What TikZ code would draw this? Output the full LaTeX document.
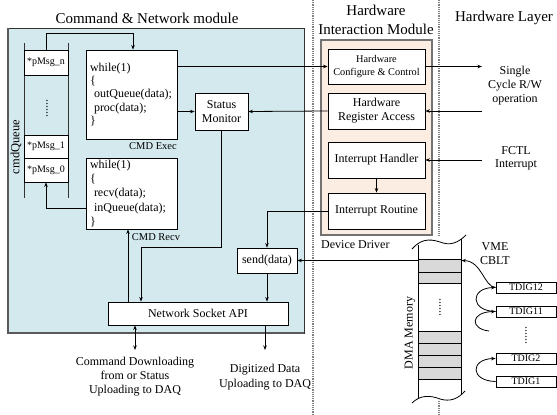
\documentclass[tikz,border=0pt]{standalone}
\usepackage{fontspec}
\setmainfont{Liberation Serif}
\usetikzlibrary{arrows.meta}
\definecolor{cnblue}{HTML}{D3E9EE}
\definecolor{hwpeach}{HTML}{FCEDE3}
\definecolor{memgray}{HTML}{D9D9D9}
\tikzset{
 box/.style={draw, fill=white, line width=0.8pt, inner sep=0pt, align=center, font=\fontsize{12}{14}\selectfont},
 cell/.style={draw, fill=white, line width=0.8pt, minimum width=44pt, inner sep=0pt, font=\fontsize{10}{12}\selectfont},
 conn/.style={line width=0.8pt},
 arr/.style={conn, -{Stealth[length=4.5pt,width=3.5pt]}},
 darr/.style={conn, {Stealth[length=4.5pt,width=3.5pt]}-{Stealth[length=4.5pt,width=3.5pt]}},
 lbl/.style={inner sep=0pt, align=center, font=\fontsize{12}{14}\selectfont},
 smalllbl/.style={inner sep=0pt, align=center, font=\fontsize{10.5}{12}\selectfont},
 ttl/.style={inner sep=0pt, align=center, font=\fontsize{15}{19}\selectfont},
 sepline/.style={gray, densely dotted, line width=1.2pt},
 memrow/.style={draw, fill=memgray, line width=0.8pt, minimum width=43pt, inner sep=0pt},
 tdig/.style={draw, fill=white, line width=0.8pt, minimum width=60pt, minimum height=11pt, inner sep=0pt, font=\fontsize{10}{11}\selectfont},
 vdots/.style={inner sep=0pt, rotate=90, font=\fontsize{12}{14}\selectfont},
}
\begin{document}
\begin{tikzpicture}[x=1pt,y=-1pt]
\useasboundingbox (0,0) rectangle (557,415);
% background regions
\fill[cnblue] (8,28) rectangle (304,333);
\draw[line width=0.6pt, black!80] (8,28) rectangle (304,333);
\draw[line width=1.6pt, black!65] (8,28) -- (8,333) -- (304,333);
\fill[hwpeach] (321,40) rectangle (432,235);
\draw[line width=1.2pt, black!55] (321,40) rectangle (432,235);
% separators
\draw[sepline] (313,0) -- (313,415);
\draw[sepline] (439,0) -- (439,236);
\draw[sepline] (439,401) -- (439,415);
% titles
\node[ttl] (t1) at (147,18) {Command \& Network module};
\node[ttl] (t2) at (376,20) {Hardware\\Interaction Module};
\node[ttl] (t3) at (504,18) {Hardware Layer};
% cmdQueue
\draw[line width=1pt, black!80] (24,43) -- (24,198);
\draw[line width=1pt, black!80] (68,43) -- (68,198);
\node[cell, minimum height=25pt] (pn) at (46,62.5) {*pMsg\_n};
\node[vdots] (qd) at (47,108) {......};
\node[cell, minimum height=23pt] (p1) at (46,146.5) {*pMsg\_1};
\node[cell, minimum height=24pt] (p0) at (46,170) {*pMsg\_0};
\node[lbl, rotate=90, font=\fontsize{12.5}{14}\selectfont] (cq) at (16,147) {cmdQueue};
% code boxes
\node[box, align=left, text width=83pt, minimum height=89pt, inner xsep=4pt, font=\fontsize{12}{13.3}\selectfont] (exec) at (131.5,94.5) {while(1)\\\{\\\hspace*{4pt}outQueue(data);\\\hspace*{4pt}proc(data);\\\}};
\node[smalllbl] (execl) at (153,146) {CMD Exec};
\node[box, align=left, text width=83pt, minimum height=71pt, inner xsep=4pt, font=\fontsize{12}{14.3}\selectfont] (recv) at (131.5,193.5) {while(1)\\\{\\\hspace*{4pt}recv(data);\\\hspace*{4pt}inQueue(data);\\\}};
\node[smalllbl] (recvl) at (156,237) {CMD Recv};
\node[box, minimum width=53pt, minimum height=37pt] (sm) at (221.5,111.5) {Status\\Monitor};
\node[box, minimum width=180pt, minimum height=23pt] (nsa) at (198,313.5) {Network Socket API};
\node[box, minimum width=60pt, minimum height=25pt] (send) at (267,260.5) {send(data)};
% hardware interaction module
\node[box, minimum width=97pt, minimum height=35pt, font=\fontsize{10.3}{13}\selectfont] (cfg) at (376.5,66.5) {Hardware\\Configure \& Control};
\node[box, minimum width=97pt, minimum height=36pt] (reg) at (376.5,111) {Hardware\\Register Access};
\node[box, minimum width=97pt, minimum height=36pt] (ih) at (376.5,160) {Interrupt Handler};
\node[box, minimum width=97pt, minimum height=36pt] (ir) at (376.5,211) {Interrupt Routine};
\node[lbl, anchor=west] (dd) at (321,245) {Device Driver};
% hardware layer labels
\node[lbl] (scl) at (515,86) {Single\\Cycle R/W\\operation};
\node[lbl, font=\fontsize{12}{13}\selectfont] (fctl) at (516,158.5) {FCTL\\Interrupt};
\node[lbl] (vme) at (495,254) {VME\\CBLT};
\coordinate (cfgout) at (482,66.5);
\coordinate (regin) at (482,111);
\coordinate (fctlin) at (482,160);
% DMA memory
\draw[line width=0.8pt] (412,249) .. controls (420,240) and (428,238) .. (440,242) .. controls (450,246) and (458,243) .. (466,235);
\draw[line width=0.8pt] (412,403) .. controls (420,395) and (430,395) .. (440,399) .. controls (450,402) and (458,399) .. (465,391);
\draw[line width=0.8pt] (418,244.5) -- (418,398);
\draw[line width=0.8pt] (461,239) -- (461,395);
\node[memrow, minimum height=13pt] (r1) at (439.5,265.5) {};
\node[memrow, minimum height=11pt] (r2) at (439.5,277.5) {};
\node[memrow, minimum height=12pt] (r3) at (439.5,337) {};
\node[memrow, minimum height=12pt] (r4) at (439.5,349) {};
\node[memrow, minimum height=12pt] (r5) at (439.5,361) {};
\node[memrow, minimum height=12pt] (r6) at (439.5,373) {};
\node[vdots] (md) at (440,307) {......};
\node[lbl, rotate=90] (dma) at (410,333) {DMA Memory};
% TDIG boards
\node[tdig] (t12) at (526,287.5) {TDIG12};
\node[tdig] (t11) at (526,311.5) {TDIG11};
\node[vdots] (td) at (526,335) {......};
\node[tdig] (t2b) at (526,358.5) {TDIG2};
\node[tdig] (t1b) at (526,381.5) {TDIG1};
\coordinate (fe) at (489,331);
% bottom labels
\coordinate (dl) at (135,350);
\coordinate (ul) at (265,350);
\node[lbl] (cmdd) at (135,377) {Command Downloading\\from or Status\\Uploading to DAQ};
\node[lbl, font=\fontsize{12}{15}\selectfont] (digd) at (265,377.5) {Digitized Data\\Uploading to DAQ};
% connectors
\coordinate (topc) at (133,33);
\draw[arr] (pn.north) |- (topc) -- (topc |- exec.north);
\coordinate (rq) at (46,208);
\draw[arr] (recv.west |- rq) -| (p0.south);
\draw[arr] (exec.east |- sm.west) -- (sm.west);
\draw[arr] (exec.east |- cfg.west) -- (cfg.west);
\draw[arr] (cfg.east) -- (cfgout);
\draw[arr] (regin) -- (reg.east);
\draw[arr] (reg.west) -- (sm.east);
\draw[arr] (fctlin) -- (ih.east);
\draw[arr] (ih.south) -- (ir.north);
\draw[arr] (ir.west) -| (send.north);
\draw[arr] (send.east -| r1.west) -- (send.east);
\draw[arr] (send.south) -- (send.south |- nsa.north);
\coordinate (sk) at (141,247);
\draw[arr] (sm.south) |- (sk) -- (sk |- nsa.north);
\coordinate (up) at (128,0);
\draw[arr] (nsa.north -| up) -- (recv.south -| up);
\draw[darr] (nsa.south -| dl) -- (dl);
\draw[arr] (nsa.south -| ul) -- (ul);
\draw[arr] (t12.west) .. controls (484,287) and (482,261) .. (send.east -| r1.east);
\draw[arr] (t11.west) .. controls (470,311) and (470,288) .. (t12.west);
\draw[arr] (fe) .. controls (470,329) and (470,312) .. (t11.west);
\draw[arr] (t1b.west) .. controls (470,381) and (470,359) .. (t2b.west);
\end{tikzpicture}
\end{document}
